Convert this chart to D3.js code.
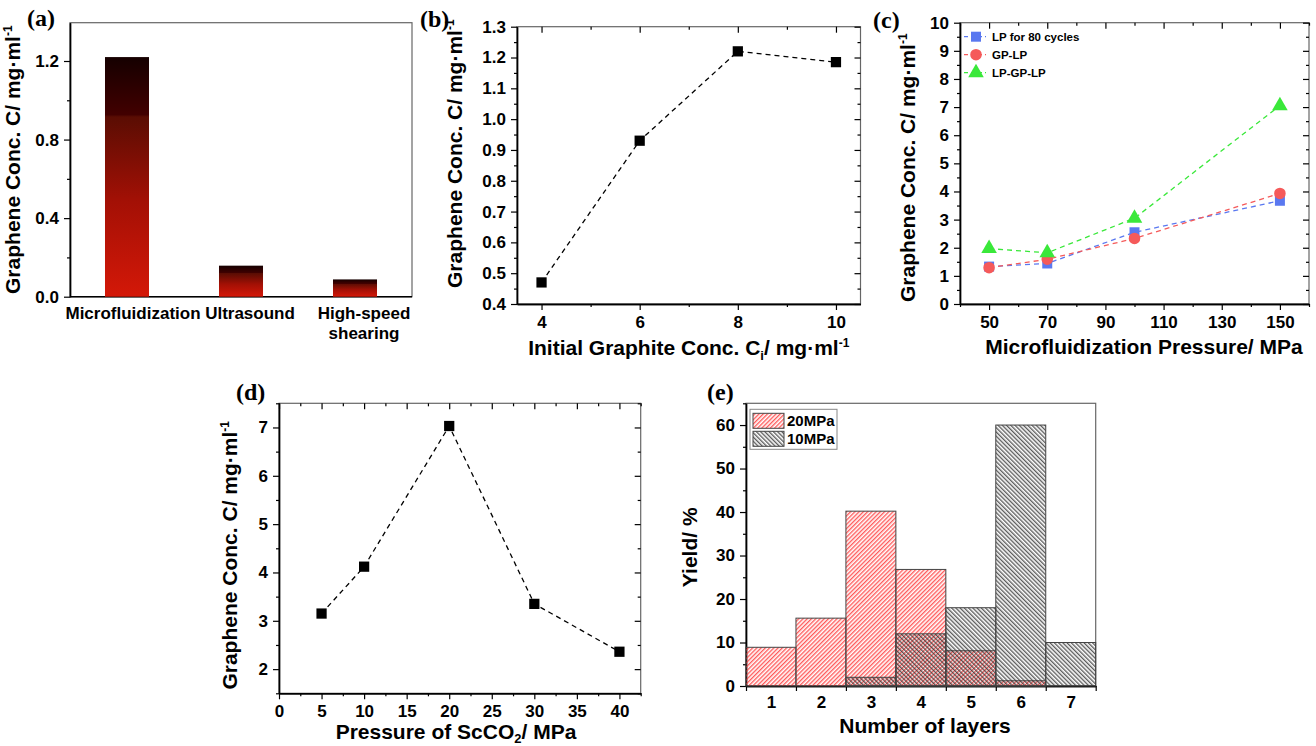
<!DOCTYPE html>
<html lang="en">
<head>
<meta charset="utf-8">
<style>
  body { margin: 0; background: #fff; }
  svg text { font-family: "Liberation Sans", Arial, sans-serif; font-weight: bold; fill: #000; }
  .tick text { font-size: 17px; }
  .domain { stroke: #000; stroke-width: 1.4px; }
  .tick line { stroke: #000; stroke-width: 1.2px; }
  .frame { fill: none; stroke: #666; stroke-width: 1.2px; }
  .plabel { font-family: "Liberation Serif", "Times New Roman", serif !important; font-size: 24px; }
  .atitle { font-size: 21px; }
</style>
</head>
<body>
<script src="https://d3js.org/d3.v7.min.js"></script>
<script>
// ---- data ----
var methods = ["Microfluidization", "Ultrasound", "High-speed\nshearing"];
var methodConc = [1.22, 0.158, 0.088];

var initConc = [4, 6, 8, 10];
var initGraphene = [0.47, 0.93, 1.22, 1.185];

var mfPressure = [50, 70, 100, 150];
var lp80 = [1.33, 1.44, 2.55, 3.67];
var gpLp = [1.29, 1.59, 2.33, 3.93];
var lpGpLp = [1.97, 1.82, 3.05, 7.05];
var seriesNames = ["LP for 80 cycles", "GP-LP", "LP-GP-LP"];

var scco2P = [5, 10, 20, 30, 40];
var scco2Conc = [3.15, 4.12, 7.03, 3.35, 2.36];

var layers = [1, 2, 3, 4, 5, 6, 7];
var yield20 = [8.9, 15.6, 40.2, 26.8, 8.1, 1.2, 0];
var yield10 = [0, 0, 2, 12, 18, 60, 10];
var yieldNames = ["20MPa", "10MPa"];

var svg = d3.select("body").append("svg")
    .attr("width", 1316).attr("height", 746);

var defs = svg.append("defs");

// bar gradient for (a)
var grad = defs.append("linearGradient").attr("id", "barGrad")
    .attr("x1", 0).attr("y1", 0).attr("x2", 0).attr("y2", 1);
[[0, "#150000"], [0.24, "#420000"], [0.25, "#5a0d03"], [0.6, "#a31005"], [1, "#d41808"]]
  .forEach(function(s){ grad.append("stop").attr("offset", s[0]).attr("stop-color", s[1]); });

// hatch patterns for (e)
function hatch(id, color, angle){
  var p = defs.append("pattern").attr("id", id)
      .attr("patternUnits", "userSpaceOnUse")
      .attr("width", 3).attr("height", 3)
      .attr("patternTransform", "rotate(" + angle + ")");
  p.append("line").attr("x1", 0.75).attr("y1", 0).attr("x2", 0.75).attr("y2", 3)
      .attr("stroke", color).attr("stroke-width", 1.1);
}
hatch("hatchRed", "#ff3030", 45);
hatch("hatchBlack", "#333", -45);

// generic frame with axes
function panel(o){
  var g = svg.append("g").attr("transform", "translate(" + o.left + "," + o.top + ")");
  g.append("rect").attr("class", "frame").attr("width", o.w).attr("height", o.h);

  if (o.mirror){
    g.append("g").call(d3.axisTop(o.x).tickValues(o.xTicks).tickSize(-6).tickSizeOuter(0).tickFormat(""));
    g.append("g").call(d3.axisTop(o.x).tickValues(o.xMinor).tickSize(-3).tickSizeOuter(0).tickFormat(""));
    g.append("g").attr("transform", "translate(" + o.w + ",0)")
      .call(d3.axisRight(o.y).tickValues(o.yTicks).tickSize(-6).tickSizeOuter(0).tickFormat(""));
    g.append("g").attr("transform", "translate(" + o.w + ",0)")
      .call(d3.axisRight(o.y).tickValues(o.yMinor).tickSize(-3).tickSizeOuter(0).tickFormat(""));
    g.selectAll(".domain").remove();
  }

  if (o.xTicks){
    g.append("g").attr("class", "xaxis").attr("transform", "translate(0," + o.h + ")")
      .call(d3.axisBottom(o.x).tickValues(o.xTicks).tickSize(o.xTickSize == null ? 6 : o.xTickSize)
        .tickSizeOuter(0).tickPadding(o.xTickSize === 0 ? 10 : 6).tickFormat(o.xFmt || null));
    if (o.xMinor) g.append("g").attr("transform", "translate(0," + o.h + ")")
      .call(d3.axisBottom(o.x).tickValues(o.xMinor).tickSize(o.xMinorSize || 3).tickSizeOuter(0).tickFormat(""));
  } else {
    g.append("line").attr("x1", 0).attr("x2", o.w).attr("y1", o.h).attr("y2", o.h)
      .attr("stroke", "#000").attr("stroke-width", 1.4);
  }
  g.append("g").call(d3.axisLeft(o.y).tickValues(o.yTicks).tickSize(6).tickSizeOuter(0)
      .tickPadding(5).tickFormat(o.yFmt || null));
  g.append("g").call(d3.axisLeft(o.y).tickValues(o.yMinor).tickSize(3).tickSizeOuter(0).tickFormat(""));
  g.selectAll(".tick text").attr("fill", "#000");

  // titles
  if (o.xTitle){
    var xt = g.append("text").attr("class", "atitle").attr("text-anchor", "middle")
      .attr("x", o.xTitleX == null ? o.w / 2 : o.xTitleX).attr("y", o.h + o.xTitleDy);
    o.xTitle(xt);
  }
  var yt = g.append("text").attr("class", "atitle").attr("text-anchor", "middle")
    .attr("transform", "translate(" + o.yTitleDx + "," + (o.yTitleY == null ? o.h / 2 : o.yTitleY) + ") rotate(-90)");
  o.yTitle(yt);

  svg.append("text").attr("class", "plabel").attr("x", o.labX).attr("y", o.labY).text(o.label);
  return g;
}

function concTitle(t){
  t.append("tspan").text("Graphene Conc. C/ mg\u00b7ml");
  t.append("tspan").attr("font-size", "12px").attr("dy", -8).text("-1");
}
function range(a, b, s){ return d3.range(a, b + s / 2, s); }

// ---------- (a) ----------
(function(){
  var w = 342, h = 274;
  var x = d3.scaleBand().domain(methods).range([0, w]).paddingInner(0.614).paddingOuter(0.307);
  var y = d3.scaleLinear().domain([0, 1.395]).range([h, 0]);
  var g = panel({left: 70, top: 22.7, w: w, h: h, x: x, y: y,
    yTicks: [0, 0.4, 0.8, 1.2], yMinor: [0.2, 0.6, 1.0], yFmt: d3.format(".1f"),
    yTitle: concTitle, yTitleDx: -50, label: "(a)", labX: 27, labY: 26});
  g.selectAll("rect.bar").data(methodConc).enter().append("rect").attr("class", "bar")
    .attr("x", function(d, i){ return x(methods[i]); })
    .attr("width", x.bandwidth())
    .attr("y", function(d){ return y(d); })
    .attr("height", function(d){ return h - y(d); })
    .attr("fill", "url(#barGrad)");
  methods.forEach(function(m, i){
    var cx = x(m) + x.bandwidth() / 2 + (i === 0 ? 6 : 9);
    var t = g.append("text").attr("text-anchor", "middle").attr("font-size", "17px").attr("y", h + 22);
    m.split("\n").forEach(function(l, j){
      t.append("tspan").attr("x", cx).attr("dy", j ? 20 : 0).text(l);
    });
  });
})();

// ---------- (b) ----------
(function(){
  var w = 343.5, h = 277.3;
  var x = d3.scaleLinear().domain([3.5, 10.5]).range([0, w]);
  var y = d3.scaleLinear().domain([0.4, 1.3]).range([h, 0]);
  var g = panel({left: 517, top: 26.7, w: w, h: h, x: x, y: y, mirror: true,
    xTicks: [4, 6, 8, 10], xMinor: [5, 7, 9], xFmt: d3.format("d"),
    yTicks: range(0.4, 1.3, 0.1), yMinor: range(0.45, 1.25, 0.1), yFmt: d3.format(".1f"),
    xTitle: function(t){
      t.append("tspan").text("Initial Graphite Conc. C");
      t.append("tspan").attr("font-size", "13px").attr("dy", 5).text("i");
      t.append("tspan").attr("dy", -5).text("/ mg\u00b7ml");
      t.append("tspan").attr("font-size", "12px").attr("dy", -8).text("-1");
    }, xTitleDy: 51,
    yTitle: concTitle, yTitleDx: -55, yTitleY: 127, label: "(b)", labX: 420, labY: 27});
  var pts = initConc.map(function(v, i){ return [x(v), y(initGraphene[i])]; });
  g.append("path").attr("d", d3.line()(pts)).attr("fill", "none")
    .attr("stroke", "#000").attr("stroke-width", 1.3).attr("stroke-dasharray", "5,4");
  g.selectAll("path.pt").data(pts).enter().append("path").attr("class", "pt")
    .attr("transform", function(d){ return "translate(" + d + ")"; })
    .attr("d", d3.symbol(d3.symbolSquare, 105)).attr("fill", "#000");
})();

// ---------- (c) ----------
(function(){
  var w = 349, h = 281.3;
  var x = d3.scaleLinear().domain([40, 160]).range([0, w]);
  var y = d3.scaleLinear().domain([0, 10]).range([h, 0]);
  var g = panel({left: 960, top: 22.7, w: w, h: h, x: x, y: y, mirror: true,
    xTicks: range(50, 150, 20), xMinor: range(40, 160, 20),
    yTicks: range(0, 10, 1), yMinor: range(0.5, 9.5, 1), yFmt: d3.format("d"),
    xTitle: function(t){ t.text("Microfluidization Pressure/ MPa"); }, xTitleDy: 50, xTitleX: 184,
    yTitle: concTitle, yTitleDx: -45, yTitleY: 145, label: "(c)", labX: 873, labY: 28});
  var series = [
    {name: seriesNames[0], vals: lp80, color: "#5a78f0", sym: d3.symbolSquare, size: 100},
    {name: seriesNames[1], vals: gpLp, color: "#f55a5a", sym: d3.symbolCircle, size: 105},
    {name: seriesNames[2], vals: lpGpLp, color: "#3ae83a", sym: d3.symbolTriangle, size: 105}
  ];
  series.forEach(function(s){
    var pts = mfPressure.map(function(p, i){ return [x(p), y(s.vals[i])]; });
    g.append("path").attr("d", d3.line()(pts)).attr("fill", "none")
      .attr("stroke", s.color).attr("stroke-width", 1.3).attr("stroke-dasharray", "5,4");
  });
  series.forEach(function(s){
    var pts = mfPressure.map(function(p, i){ return [x(p), y(s.vals[i])]; });
    g.selectAll(null).data(pts).enter().append("path")
      .attr("transform", function(d){ return "translate(" + d + ")"; })
      .attr("d", d3.symbol(s.sym, s.size)).attr("fill", s.color);
  });
  // legend
  series.forEach(function(s, i){
    var ly = 14 + i * 18;
    g.append("line").attr("x1", 4).attr("x2", 26).attr("y1", ly).attr("y2", ly)
      .attr("stroke", s.color).attr("stroke-width", 1.3).attr("stroke-dasharray", "4,3");
    g.append("path").attr("transform", "translate(16," + ly + ")")
      .attr("d", d3.symbol(s.sym, s.size)).attr("fill", s.color);
    g.append("text").attr("x", 32).attr("y", ly).attr("dy", "0.35em")
      .attr("font-size", "11.5px").text(s.name);
  });
})();

// ---------- (d) ----------
(function(){
  var w = 361.7, h = 290;
  var x = d3.scaleLinear().domain([0, 42.5]).range([0, w]);
  var y = d3.scaleLinear().domain([1.5, 7.5]).range([h, 0]);
  var g = panel({left: 279, top: 403.3, w: w, h: h, x: x, y: y, mirror: true,
    xTicks: range(0, 40, 5), xMinor: range(2.5, 42.5, 5),
    yTicks: range(2, 7, 1), yMinor: range(1.5, 7.5, 1), yFmt: d3.format("d"),
    xTitle: function(t){
      t.append("tspan").text("Pressure of ScCO");
      t.append("tspan").attr("font-size", "13px").attr("dy", 4).text("2");
      t.append("tspan").attr("dy", -4).text("/ MPa");
    }, xTitleDy: 46, xTitleX: 177,
    yTitle: concTitle, yTitleDx: -42, yTitleY: 152, label: "(d)", labX: 236, labY: 400});
  var pts = scco2P.map(function(v, i){ return [x(v), y(scco2Conc[i])]; });
  g.append("path").attr("d", d3.line()(pts)).attr("fill", "none")
    .attr("stroke", "#000").attr("stroke-width", 1.3).attr("stroke-dasharray", "5,4");
  g.selectAll("path.pt").data(pts).enter().append("path").attr("class", "pt")
    .attr("transform", function(d){ return "translate(" + d + ")"; })
    .attr("d", d3.symbol(d3.symbolSquare, 105)).attr("fill", "#000");
})();

// ---------- (e) ----------
(function(){
  var w = 349.7, h = 282.7;
  var x = d3.scaleLinear().domain([0.5, 7.5]).range([0, w]);
  var y = d3.scaleLinear().domain([0, 65]).range([h, 0]);
  var g = panel({left: 746, top: 403.3, w: w, h: h, x: x, y: y,
    xTicks: layers, xTickSize: 0, xFmt: d3.format("d"),
    xMinor: range(0.5, 7.5, 1), xMinorSize: 5,
    yTicks: range(0, 60, 10), yMinor: range(5, 65, 10), yFmt: d3.format("d"),
    xTitle: function(t){ t.text("Number of layers"); }, xTitleDy: 47, xTitleX: 179,
    yTitle: function(t){ t.text("Yield/ %"); }, yTitleDx: -49, yTitleY: 144,
    label: "(e)", labX: 707, labY: 400});
  [[yield20, "url(#hatchRed)"], [yield10, "url(#hatchBlack)"]].forEach(function(s){
    g.selectAll(null).data(layers.filter(function(l, i){ return s[0][i] > 0; })).enter()
      .append("rect")
      .attr("x", function(l){ return x(l - 0.5); })
      .attr("width", function(l){ return x(l + 0.5) - x(l - 0.5); })
      .attr("y", function(l){ return y(s[0][l - 1]); })
      .attr("height", function(l){ return h - y(s[0][l - 1]); })
      .attr("fill", s[1]).attr("stroke", "#444").attr("stroke-width", 1);
  });
  // legend
  var lg = g.append("g").attr("transform", "translate(4,6)");
  lg.append("rect").attr("width", 87).attr("height", 40).attr("fill", "#fff")
    .attr("stroke", "#888").attr("stroke-width", 1);
  [["url(#hatchRed)", yieldNames[0]], ["url(#hatchBlack)", yieldNames[1]]].forEach(function(s, i){
    lg.append("rect").attr("x", 3).attr("y", 4 + i * 18).attr("width", 31).attr("height", 15)
      .attr("fill", s[0]).attr("stroke", "#444");
    lg.append("text").attr("x", 37).attr("y", 11.5 + i * 18).attr("dy", "0.35em")
      .attr("font-size", "15px").text(s[1]);
  });
})();
</script>
</body>
</html>
